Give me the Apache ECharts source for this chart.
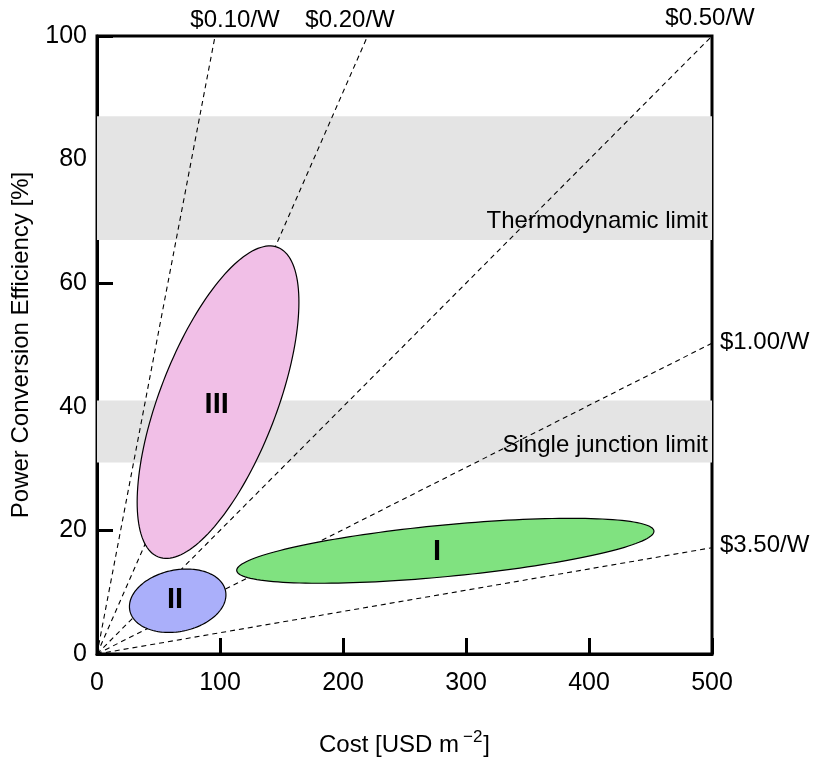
<!DOCTYPE html>
<html>
<head>
<meta charset="utf-8">
<script src="https://cdn.jsdelivr.net/npm/echarts@6/dist/echarts.min.js"></script>
<style>
  html, body { margin: 0; padding: 0; background: #fff; }
  #chart { width: 814px; height: 759px; }
</style>
</head>
<body>
<div id="chart"></div>
<script>
const FONT = '"Liberation Sans", Arial, Helvetica, sans-serif';

// $/W iso-cost lines: from origin to the end point
const priceLabels = ['$0.10/W', '$0.20/W', '$0.50/W', '$1.00/W', '$3.50/W'];
const priceLineEnds = [[96, 100], [220, 100], [500, 100], [500, 50.3], [500, 17.2]];
const priceLabelPos = [[112.2, 102.6], [205.7, 102.6], [498.4, 102.8], [506.5, 50.5], [506.5, 17.6]];
const priceLabelAlign = ['center', 'center', 'center', 'left', 'left'];

// limit bands (efficiency %)
const bandRanges = [[67, 87], [31, 41]];
const bandLabels = ['Thermodynamic limit', 'Single junction limit'];
const bandLabelPos = [[496.7, 70.0], [496.7, 33.8]];

// generation regions: centre, major semi-axis vector, minor semi-axis vector (data units)
const ellipseNames = ['I', 'II', 'III'];
const ellipseCenters = [[283.2, 16.7], [65.6, 8.62], [98.4, 40.75]];
const ellipseMajor = [[169.6, 3.21], [38.9, 1.59], [48.5, 25.05]];
const ellipseMinor = [[1.98, -4.16], [5.03, -4.88], [44.4, -3.41]];
const ellipseLabelPos = [[276.4, 16.55], [63.4, 8.74], [97.3, 40.3]];

const ellipseColors = ['#80e280', '#aaaffa', '#f1bfe7'];

const chart = echarts.init(document.getElementById('chart'));

function renderEllipse(params, api) {
  const i = params.dataIndex;
  const c = ellipseCenters[i], u = ellipseMajor[i], v = ellipseMinor[i];
  const pts = [];
  const n = 160;
  for (let k = 0; k < n; k++) {
    const t = (k / n) * Math.PI * 2;
    const ct = Math.cos(t), st = Math.sin(t);
    pts.push(api.coord([c[0] + u[0] * ct + v[0] * st, c[1] + u[1] * ct + v[1] * st]));
  }
  const lp = api.coord(ellipseLabelPos[i]);
  return {
    type: 'group',
    children: [
      {
        type: 'polygon',
        shape: { points: pts },
        style: { fill: ellipseColors[i], stroke: '#000', lineWidth: 1.2 }
      },
      {
        type: 'text',
        x: lp[0],
        y: lp[1],
        style: {
          text: ellipseNames[i],
          fill: '#000',
          font: 'bold 29px ' + FONT,
          align: 'center',
          verticalAlign: 'middle'
        }
      }
    ]
  };
}

const textItems = [];
priceLabels.forEach((t, i) => textItems.push({ value: priceLabelPos[i], text: t, align: priceLabelAlign[i], size: 24 }));
bandLabels.forEach((t, i) => textItems.push({ value: bandLabelPos[i], text: t, align: 'right', size: 24 }));

function renderText(params, api) {
  const item = textItems[params.dataIndex];
  const p = api.coord(item.value);
  return {
    type: 'text',
    x: p[0],
    y: p[1],
    style: {
      text: item.text,
      fill: '#000',
      font: item.size + 'px ' + FONT,
      align: item.align,
      verticalAlign: 'middle'
    }
  };
}

const lineSeries = priceLabels.map((name, i) => ({
  name: name,
  type: 'line',
  data: [[0, 0], priceLineEnds[i]],
  symbol: 'none',
  silent: true,
  z: 3,
  lineStyle: { color: '#000', width: 1.1, type: [5, 4] }
}));

chart.setOption({
  animation: false,
  backgroundColor: '#fff',
  textStyle: { fontFamily: FONT },
  grid: {
    left: 97,
    right: 102,
    top: 36,
    bottom: 105,
    containLabel: false,
    outerBoundsMode: 'none',
    show: true,
    borderColor: '#000',
    borderWidth: 3,
    backgroundColor: 'transparent'
  },
  xAxis: {
    type: 'value',
    min: 0,
    max: 500,
    interval: 100,
    name: 'Cost [USD m{sup|−2}]',
    nameLocation: 'middle',
    nameGap: 75,
    nameTextStyle: {
      color: '#000',
      fontSize: 24,
      fontFamily: FONT,
      rich: {
        sup: { fontSize: 17, fontFamily: FONT, color: '#000', padding: [0, 1, 16, 4] }
      }
    },
    axisLine: { lineStyle: { color: '#000', width: 3 } },
    axisTick: { inside: true, length: 16, lineStyle: { color: '#000', width: 3 } },
    axisLabel: { color: '#000', fontSize: 25, fontFamily: FONT, margin: 17 },
    splitLine: { show: false }
  },
  yAxis: {
    type: 'value',
    min: 0,
    max: 100,
    interval: 20,
    name: 'Power Conversion Efficiency [%]',
    nameLocation: 'middle',
    nameGap: 64,
    nameTextStyle: { color: '#000', fontSize: 24, fontFamily: FONT },
    axisLine: { lineStyle: { color: '#000', width: 3 } },
    axisTick: { inside: true, length: 16, lineStyle: { color: '#000', width: 3 } },
    axisLabel: { color: '#000', fontSize: 25, fontFamily: FONT, margin: 10 },
    splitLine: { show: false }
  },
  series: [
    {
      name: 'bands',
      type: 'line',
      data: [],
      z: 1,
      silent: true,
      markArea: {
        silent: true,
        itemStyle: { color: '#e4e4e4' },
        label: { show: false },
        data: bandRanges.map(r => [{ yAxis: r[0] }, { yAxis: r[1] }])
      }
    },
    ...lineSeries,
    {
      name: 'regions',
      type: 'custom',
      z: 4,
      silent: true,
      renderItem: renderEllipse,
      data: ellipseCenters.map(c => c.slice())
    },
    {
      name: 'texts',
      type: 'custom',
      z: 5,
      silent: true,
      clip: false,
      renderItem: renderText,
      data: textItems.map(t => t.value.slice())
    }
  ]
});
</script>
</body>
</html>
